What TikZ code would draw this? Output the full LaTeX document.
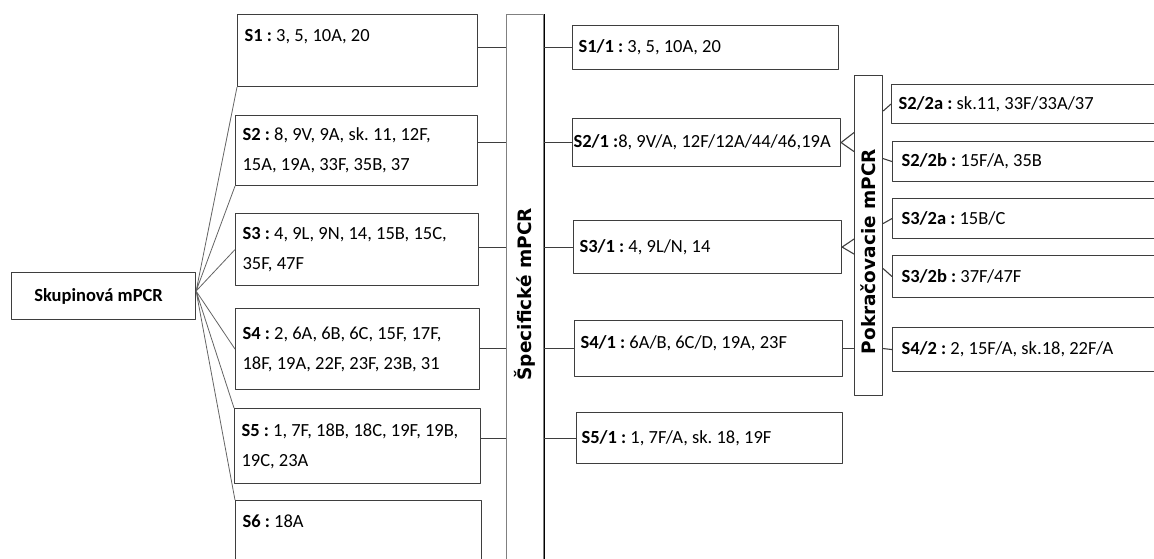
\documentclass[tikz,border=0pt]{standalone}
\usepackage{fontspec}
\usepackage{graphicx}
\setmainfont{Carlito}
\newfontfamily\barfont{DejaVu Sans}
\usetikzlibrary{calc}
\definecolor{boxgray}{RGB}{62,62,62}
\definecolor{fangray}{RGB}{100,100,100}
\frenchspacing
\begin{document}
\begin{tikzpicture}[x=1pt, y=-1pt, line join=round, font=\fontsize{18.5}{30}\selectfont,
		box/.style={draw=boxgray, line width=1.1pt, anchor=north west, align=flush left, inner sep=0pt},
		bar/.style={draw=boxgray, line width=1.1pt, anchor=north west, inner sep=0pt, font=\barfont\bfseries\fontsize{18.5}{22}\selectfont},
		conn/.style={draw=boxgray, line width=1.1pt},
		fanline/.style={draw=fangray, line width=.8pt}]
		\useasboundingbox (0,0) rectangle (1154,558);
		\clip (0,0) rectangle (1154,558);
		\node[box, align=flush center, minimum width=184pt, minimum height=47pt, font=\fontsize{18.5}{22}\selectfont\bfseries] (grp) at (11,272) {Skupinová mPCR\hspace*{10pt}};
		\coordinate (fan) at ([yshift=5pt]grp.east);
		% skupiny
		\node[box, text width=226pt, minimum width=240pt, minimum height=72pt] (s1) at (237,14) {\textbf{S1 :} 3, 5, 10A, 20\\\mbox{}};
		\node[box, text width=228pt, minimum width=242pt, minimum height=70pt] (s2) at (235,115) {\textbf{S2 :} 8, 9V, 9A, sk. 11, 12F,\\15A, 19A, 33F, 35B, 37};
		\node[box, text width=229pt, minimum width=243pt, minimum height=72pt] (s3) at (235,213) {\textbf{S3 :} 4, 9L, 9N, 14, 15B, 15C,\\35F, 47F};
		\node[box, text width=230pt, minimum width=244pt, minimum height=81pt] (s4) at (235,308) {\textbf{S4 :} 2, 6A, 6B, 6C, 15F, 17F,\\18F, 19A, 22F, 23F, 23B, 31};
		\node[box, text width=232pt, minimum width=246pt, minimum height=75pt] (s5) at (234,408) {\textbf{S5 :} 1, 7F, 18B, 18C, 19F, 19B,\\19C, 23A};
		\node[box, text width=232pt, minimum width=246pt, minimum height=72pt] (s6) at (235,500) {\textbf{S6 :} 18A\\\mbox{}};
		\node[bar, draw=gray, minimum width=37pt, minimum height=559pt] (spec) at (506,14) {\rotatebox{90}{Špecifické mPCR}};
		\draw[line width=1.1pt] (spec.north east) -- (spec.south east);
		% specificke
		\node[box, text width=254pt, minimum width=266pt, minimum height=44pt] (s11) at (572,25) {\textbf{S1/1 :} 3, 5, 10A, 20};
		\node[box, text width=266pt, minimum width=268pt, minimum height=48pt] (s21) at (572,118) {\textbf{S2/1 :}8, 9V/A, 12F/12A/44/46,19A};
		\node[box, text width=256pt, minimum width=268pt, minimum height=53pt] (s31) at (573,220) {\textbf{S3/1 :} 4, 9L/N, 14};
		\node[box, text width=256pt, minimum width=268pt, minimum height=56pt, text depth=14pt] (s41) at (574,320) {\textbf{S4/1 :} 6A/B, 6C/D, 19A, 23F};
		\node[box, text width=256pt, minimum width=266pt, minimum height=51pt] (s51) at (576,412) {\textbf{S5/1 :} 1, 7F/A, sk. 18, 19F};
		\node[bar, minimum width=28pt, minimum height=320pt] (pok) at (854,75) {\rotatebox{90}{Pokračovacie mPCR\hspace*{32pt}}};
		% pokracovacie
		\node[box, text width=266pt, minimum width=280pt, minimum height=39pt] (s22a) at (891,84) {\textbf{S2/2a :} sk.11, 33F/33A/37};
		\node[box, text width=262pt, minimum width=280pt, minimum height=40pt] (s22b) at (892,141) {\textbf{S2/2b :} 15F/A, 35B};
		\node[box, text width=262pt, minimum width=280pt, minimum height=40pt] (s32a) at (892,198) {\textbf{S3/2a :} 15B/C};
		\node[box, text width=262pt, minimum width=280pt, minimum height=42pt] (s32b) at (892,255) {\textbf{S3/2b :} 37F/47F};
		\node[box, text width=262pt, minimum width=280pt, minimum height=44pt] (s42) at (892,327) {\textbf{S4/2 :} 2, 15F/A, sk.18, 22F/A};
		\draw[fanline] \foreach \t in {s1.south west,s2.south west,s3.west,s4.west,s5.north west,s6.north west} {(fan) -- (\t)};
		\foreach \src/\dst in {s1/s11,s2/s21,s3/s31,s4/s41,s5/s51}
		\draw[conn] (\src.east |- \dst.west) -- (spec.west |- \dst.west) (spec.east |- \dst.west) -- (\dst.west);
		\draw[conn] ($(pok.west |- s21.east)+(0,-10)$) -- (s21.east) -- ($(pok.west |- s21.east)+(0,9)$);
		\draw[conn] ($(pok.west |- s31.east)+(0,-8)$) -- (s31.east) -- ($(pok.west |- s31.east)+(0,7)$);
		\draw[conn] (s41.east) -- (pok.west |- s41.east);
		\foreach \dst/\d in {s22a/7,s22b/-3,s32a/5,s32b/-8,s42/-1}
		\draw[conn] ($(pok.east |- \dst.west)+(0,\d)$) -- (\dst.west);
\end{tikzpicture}
\end{document}
